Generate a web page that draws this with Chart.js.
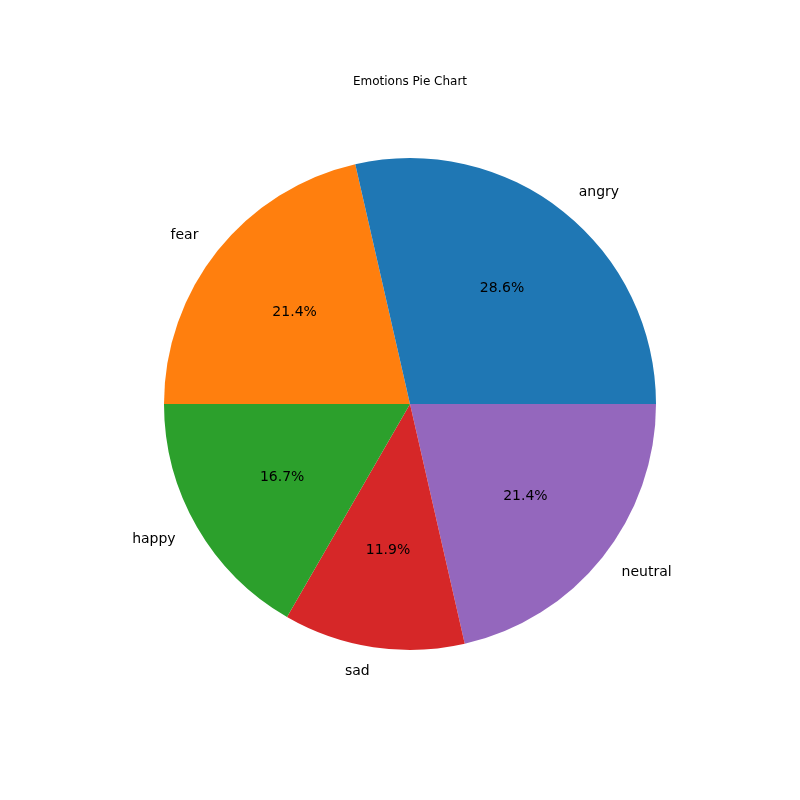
<!DOCTYPE html>
<html>
<head>
<meta charset="utf-8">
<script src="https://cdn.jsdelivr.net/npm/chart.js@4/dist/chart.umd.min.js"></script>
<style>body{margin:0;background:#fff}</style>
</head>
<body>
<canvas id="pieChart" width="800" height="800"></canvas>
<script>
(() => {
  'use strict'

  // matplotlib order is counterclockwise from 3 o'clock
  const categories = ['angry', 'fear', 'happy', 'sad', 'neutral']
  const counts = [12, 9, 7, 5, 9]
  const colors = ['#1f77b4', '#ff7f0e', '#2ca02c', '#d62728', '#9467bd']

  // Chart.js draws clockwise, so reverse
  const labels = categories.slice().reverse()
  const values = counts.slice().reverse()
  const bg = colors.slice().reverse()
  const total = values.reduce((a, b) => a + b, 0)

  const pieText = {
    id: 'pieText',
    afterDatasetsDraw (chart) {
      const c = chart.ctx
      c.save()
      c.fillStyle = '#000'
      c.font = '12px "DejaVu Sans"'
      c.textAlign = 'center'
      c.textBaseline = 'middle'
      c.fillText('Emotions Pie Chart', 410, 82)
      c.font = '14px "DejaVu Sans"'
      chart.getDatasetMeta(0).data.forEach((arc, i) => {
        const mid = (arc.startAngle + arc.endAngle) / 2
        const r = arc.outerRadius
        const cos = Math.cos(mid)
        const sin = Math.sin(mid)
        c.textAlign = 'center'
        c.fillText((values[i] / total * 100).toFixed(1) + '%', arc.x + cos * r * 0.6, arc.y + sin * r * 0.6)
        c.textAlign = cos >= 0 ? 'left' : 'right'
        c.fillText(labels[i], arc.x + cos * r * 1.1, arc.y + sin * r * 1.1)
      })
      c.restore()
    }
  }

  // eslint-disable-next-line no-unused-vars
  const pieChart = new Chart(document.getElementById('pieChart'), {
    type: 'pie',
    data: {
      labels,
      datasets: [{ data: values, backgroundColor: bg, borderWidth: 0 }]
    },
    options: {
      responsive: false,
      animation: false,
      rotation: 90,
      layout: { padding: { top: 158, bottom: 150, left: 164, right: 144 } },
      plugins: { legend: { display: false }, tooltip: { enabled: false } }
    },
    plugins: [pieText]
  })
})()
</script>
</body>
</html>
